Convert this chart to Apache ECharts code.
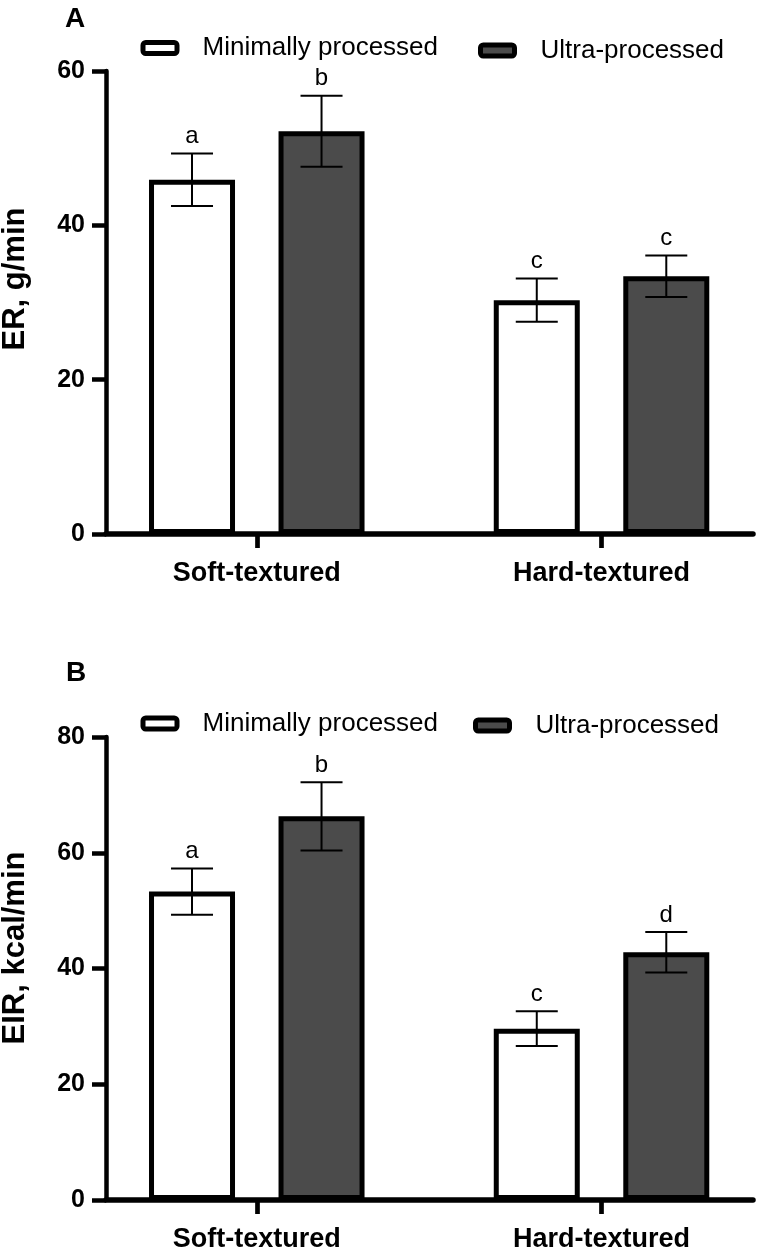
<!DOCTYPE html>
<html>
<head>
<meta charset="utf-8">
<script src="https://cdn.jsdelivr.net/npm/echarts@6.0.0/dist/echarts.min.js"></script>
<style>
  html, body { margin: 0; padding: 0; background: #ffffff; }
  #chart { width: 762px; height: 1252px; }
</style>
</head>
<body>
<div id="chart"></div>
<script>
// ---------- data ----------
const categories = ['Soft-textured', 'Hard-textured'];
const seriesNames = ['Minimally processed', 'Ultra-processed'];

const erMinimal = [45.9, 30.3];
const erMinimalErr = [3.4, 2.8];
const erMinimalLetters = ['a', 'c'];
const erUltra = [52.2, 33.4];
const erUltraErr = [4.6, 2.7];
const erUltraLetters = ['b', 'c'];

const eirMinimal = [53.3, 29.6];
const eirMinimalErr = [4.0, 3.0];
const eirMinimalLetters = ['a', 'c'];
const eirUltra = [66.3, 42.8];
const eirUltraErr = [5.9, 3.5];
const eirUltraLetters = ['b', 'd'];

const erTicks = [0, 20, 40, 60];
const eirTicks = [0, 20, 40, 60, 80];

// ---------- style ----------
const FONT = '"Liberation Sans", Arial, Helvetica, sans-serif';
const BAR_W = 86;
const BAR_GAP = 0.506;
const BAR_OFFSET = BAR_W * (1 + BAR_GAP) / 2;
const CAP = 21;
const DARK = '#4b4b4b';

const panels = [
  { top: 71, height: 463, ticks: erTicks, yName: 'ER, g/min', namePad: 47,
    mp: erMinimal, mpErr: erMinimalErr, mpLet: erMinimalLetters,
    up: erUltra, upErr: erUltraErr, upLet: erUltraLetters },
  { top: 737, height: 463, ticks: eirTicks, yName: 'EIR, kcal/min', namePad: 41,
    mp: eirMinimal, mpErr: eirMinimalErr, mpLet: eirMinimalLetters,
    up: eirUltra, upErr: eirUltraErr, upLet: eirUltraLetters }
];

const GRID_LEFT = 84.4, GRID_W = 689.5;
const AXIS_X = 106, AXIS_END = 753;

const grid = [], xAxis = [], yAxis = [], series = [];

function errorSeries(name, axisIdx, means, errs, letters, sign) {
  return {
    type: 'custom', name: name, xAxisIndex: axisIdx, yAxisIndex: axisIdx,
    z: 5, silent: true, clip: false,
    data: means.map((m, i) => [i, m, errs[i]]),
    encode: { x: 0, y: 1 },
    renderItem: function (params, api) {
      const ci = api.value(0), m = api.value(1), e = api.value(2);
      const top = api.coord([ci, m + e]);
      const bot = api.coord([ci, m - e]);
      const x = top[0] + sign * BAR_OFFSET;
      const ls = { stroke: '#000', lineWidth: 2 };
      return {
        type: 'group',
        children: [
          { type: 'line', shape: { x1: x, y1: top[1], x2: x, y2: bot[1] }, style: ls },
          { type: 'line', shape: { x1: x - CAP, y1: top[1], x2: x + CAP, y2: top[1] }, style: ls },
          { type: 'line', shape: { x1: x - CAP, y1: bot[1], x2: x + CAP, y2: bot[1] }, style: ls },
          { type: 'text', x: x, y: top[1] - 5,
            style: { text: letters[params.dataIndex], fill: '#000', fontSize: 24, fontFamily: FONT,
                     align: 'center', verticalAlign: 'bottom', textAlign: 'center', textVerticalAlign: 'bottom' } }
        ]
      };
    }
  };
}

panels.forEach((p, k) => {
  const gi = k * 2;
  const yMin = p.ticks[0], yMax = p.ticks[p.ticks.length - 1], yInt = p.ticks[1] - p.ticks[0];
  grid.push({ left: GRID_LEFT, width: GRID_W, top: p.top, height: p.height, outerBoundsMode: 'none', containLabel: false });
  grid.push({ left: AXIS_X, width: AXIS_END - AXIS_X, top: p.top, height: p.height, outerBoundsMode: 'none', containLabel: false });

  xAxis.push({
    gridIndex: gi, type: 'category', data: categories,
    axisLine: { show: false },
    axisTick: { show: true, alignWithLabel: true, length: 14, lineStyle: { color: '#000', width: 4.7 } },
    axisLabel: { color: '#000', fontSize: 27, fontWeight: 'bold', fontFamily: FONT, margin: 26 },
    splitLine: { show: false }
  });
  xAxis.push({
    gridIndex: gi + 1, type: 'value', min: 0, max: 1,
    axisLine: { show: true, onZero: false, lineStyle: { color: '#000', width: 5.5 } },
    axisTick: { show: false }, axisLabel: { show: false }, splitLine: { show: false }
  });
  yAxis.push({
    gridIndex: gi, type: 'value', min: yMin, max: yMax, interval: yInt,
    offset: GRID_LEFT - AXIS_X,
    name: p.yName, nameLocation: 'middle', nameRotate: 90, nameGap: 75,
    nameTextStyle: { color: '#000', fontSize: 31, fontWeight: 'bold', fontFamily: FONT, padding: [0, 0, 0, p.namePad] },
    axisLine: { show: true, lineStyle: { color: '#000', width: 4.5 } },
    axisTick: { show: true, length: 14, lineStyle: { color: '#000', width: 4.5 } },
    axisLabel: { color: '#000', fontSize: 25, fontWeight: 'bold', fontFamily: FONT, margin: 21 },
    splitLine: { show: false }
  });
  yAxis.push({ gridIndex: gi + 1, type: 'value', min: yMin, max: yMax, show: false });

  series.push({
    type: 'bar', name: seriesNames[0], xAxisIndex: gi, yAxisIndex: gi,
    data: p.mp, barWidth: BAR_W, barGap: (BAR_GAP * 100) + '%',
    itemStyle: { color: '#ffffff', borderColor: '#000', borderWidth: 5 },
    silent: true
  });
  series.push({
    type: 'bar', name: seriesNames[1], xAxisIndex: gi, yAxisIndex: gi,
    data: p.up, barWidth: BAR_W, barGap: (BAR_GAP * 100) + '%',
    itemStyle: { color: DARK, borderColor: '#000', borderWidth: 5 },
    silent: true
  });
  series.push(errorSeries('err-mp-' + k, gi, p.mp, p.mpErr, p.mpLet, -1));
  series.push(errorSeries('err-up-' + k, gi, p.up, p.upErr, p.upLet, 1));
});

function legendItem(name, left, top, gap) {
  return {
    data: [name], left: left, top: top, padding: 0, selectedMode: false,
    itemWidth: 34, itemHeight: 11,
    itemStyle: { borderColor: '#000', borderWidth: 5 },
    textStyle: { color: '#000', fontSize: 26, fontFamily: FONT, padding: [0, 0, 0, gap] }
  };
}

const option = {
  backgroundColor: '#ffffff',
  animation: false,
  title: [
    { text: 'A', left: 65, top: 5.5, padding: 0, textStyle: { color: '#000', fontSize: 28, fontWeight: 'bold', fontFamily: FONT } },
    { text: 'B', left: 66, top: 659, padding: 0, textStyle: { color: '#000', fontSize: 28, fontWeight: 'bold', fontFamily: FONT } }
  ],
  legend: [
    legendItem(seriesNames[0], 140.5, 35, 20.5),
    legendItem(seriesNames[1], 478, 37.5, 21),
    legendItem(seriesNames[0], 140.5, 710.5, 20.5),
    legendItem(seriesNames[1], 473, 712.5, 21)
  ],
  grid: grid, xAxis: xAxis, yAxis: yAxis, series: series
};

const chart = echarts.init(document.getElementById('chart'), null, { renderer: 'canvas' });
chart.setOption(option);
</script>
</body>
</html>
